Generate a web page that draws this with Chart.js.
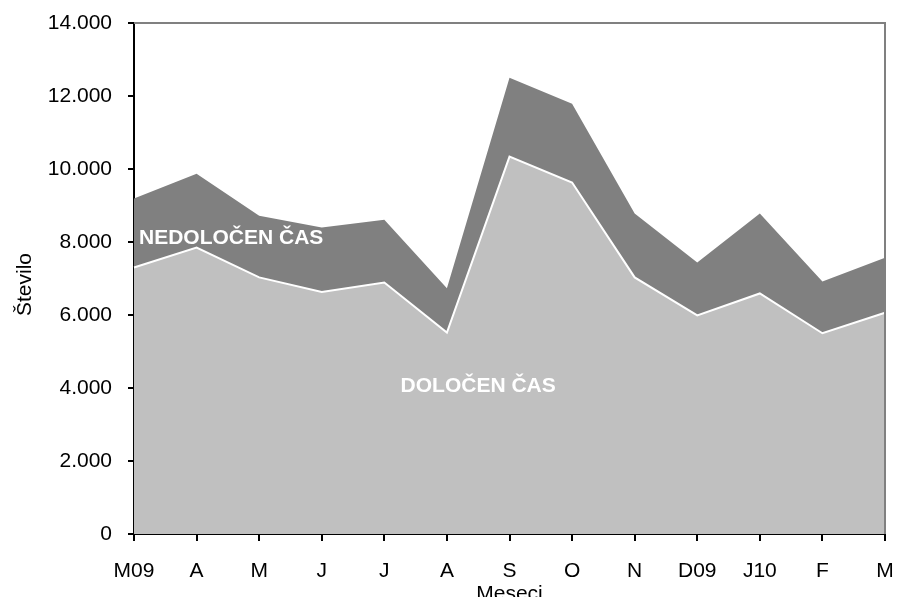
<!DOCTYPE html>
<html>
<head>
<meta charset="utf-8">
<script src="https://cdn.jsdelivr.net/npm/chart.js@4.4.1/dist/chart.umd.min.js"></script>
<style>
  html, body { margin: 0; padding: 0; background: #ffffff; }
  #wrap { width: 899px; height: 597px; position: relative; }
</style>
</head>
<body>
<div id="wrap"><canvas id="areaChart"></canvas></div>
<script>
const months = ["M09", "A", "M", "J", "J", "A", "S", "O", "N", "D09", "J10", "F", "M"];
const dolocenCas = [7300, 7850, 7030, 6630, 6890, 5520, 10340, 9630, 7030, 5990, 6590, 5500, 6060];
const nedolocenCas = [1890, 2020, 1690, 1770, 1720, 1210, 2160, 2160, 1750, 1450, 2190, 1420, 1510];
const yTicks = [0, 2000, 4000, 6000, 8000, 10000, 12000, 14000];

// where the series names sit, in data units (category index, value)
const nedolocenLabelAt = { x: 0.08, y: 8100 };
const dolocenLabelAt = { x: 5.5, y: 4060 };

const fontFamily = "'Liberation Sans', Arial, sans-serif";

function fmt(v) {
  return String(v).replace(/\B(?=(\d{3})+(?!\d))/g, ".");
}

const extras = {
  id: "extras",
  afterDraw(chart) {
    const { ctx, chartArea, scales } = chart;
    ctx.save();
    // grey frame top and right
    ctx.strokeStyle = "#808080";
    ctx.lineWidth = 2;
    ctx.beginPath();
    ctx.moveTo(chartArea.left, chartArea.top);
    ctx.lineTo(chartArea.right, chartArea.top);
    ctx.lineTo(chartArea.right, chartArea.bottom);
    ctx.stroke();

    // series names
    ctx.fillStyle = "#ffffff";
    ctx.font = "bold 21px " + fontFamily;
    ctx.textBaseline = "middle";
    ctx.textAlign = "left";
    ctx.fillText("NEDOLOČEN ČAS",
      scales.x.getPixelForValue(nedolocenLabelAt.x),
      scales.y.getPixelForValue(nedolocenLabelAt.y));
    ctx.textAlign = "center";
    ctx.fillText("DOLOČEN ČAS",
      scales.x.getPixelForValue(dolocenLabelAt.x),
      scales.y.getPixelForValue(dolocenLabelAt.y));

    // y axis title
    ctx.fillStyle = "#000000";
    ctx.font = "21px " + fontFamily;
    ctx.translate(25, (chartArea.top + chartArea.bottom) / 2 + 6);
    ctx.rotate(-Math.PI / 2);
    ctx.fillText("Število", 0, 0);
    ctx.restore();
  },
};

new Chart(document.getElementById("areaChart"), {
  type: "line",
  data: {
    labels: months,
    datasets: [
      {
        label: "DOLOČEN ČAS",
        data: dolocenCas,
        fill: "origin",
        backgroundColor: "#c0c0c0",
        borderColor: "#ffffff",
        borderWidth: 2,
        pointRadius: 0,
        tension: 0,
      },
      {
        label: "NEDOLOČEN ČAS",
        data: nedolocenCas,
        fill: "-1",
        backgroundColor: "#808080",
        borderColor: "#808080",
        borderWidth: 0,
        pointRadius: 0,
        tension: 0,
      },
    ],
  },
  options: {
    responsive: true,
    maintainAspectRatio: false,
    animation: false,
    layout: { padding: { top: 23, right: 14, left: 0, bottom: 0 } },
    plugins: {
      legend: { display: false },
      tooltip: { enabled: false },
    },
    scales: {
      x: {
        offset: false,
        grid: {
          drawOnChartArea: false,
          drawTicks: true,
          tickLength: 7,
          color: "#000000",
          lineWidth: 2,
        },
        border: { color: "#000000", width: 2 },
        ticks: {
          color: "#000000",
          font: { family: fontFamily, size: 21 },
          padding: 18,
          autoSkip: false,
          maxRotation: 0,
        },
        title: {
          display: true,
          text: "Meseci",
          color: "#000000",
          font: { family: fontFamily, size: 21, lineHeight: 1.2 },
          padding: { top: 0, bottom: -10 },
        },
        afterFit(scale) {
          scale.height = 63;
          scale.paddingLeft = 0;
          scale.paddingRight = 0;
        },
      },
      y: {
        stacked: true,
        min: 0,
        max: 14000,
        grid: {
          drawOnChartArea: false,
          drawTicks: true,
          tickLength: 6,
          color: "#000000",
          lineWidth: 2,
        },
        border: { color: "#000000", width: 2 },
        afterBuildTicks(scale) {
          scale.ticks = yTicks.map((v) => ({ value: v }));
        },
        ticks: {
          color: "#000000",
          font: { family: fontFamily, size: 21 },
          padding: 16,
          callback: (value) => fmt(value),
        },
        afterFit(scale) {
          scale.width = 134;
          scale.paddingTop = 0;
          scale.paddingBottom = 0;
        },
      },
    },
  },
  plugins: [extras],
});
</script>
</body>
</html>
